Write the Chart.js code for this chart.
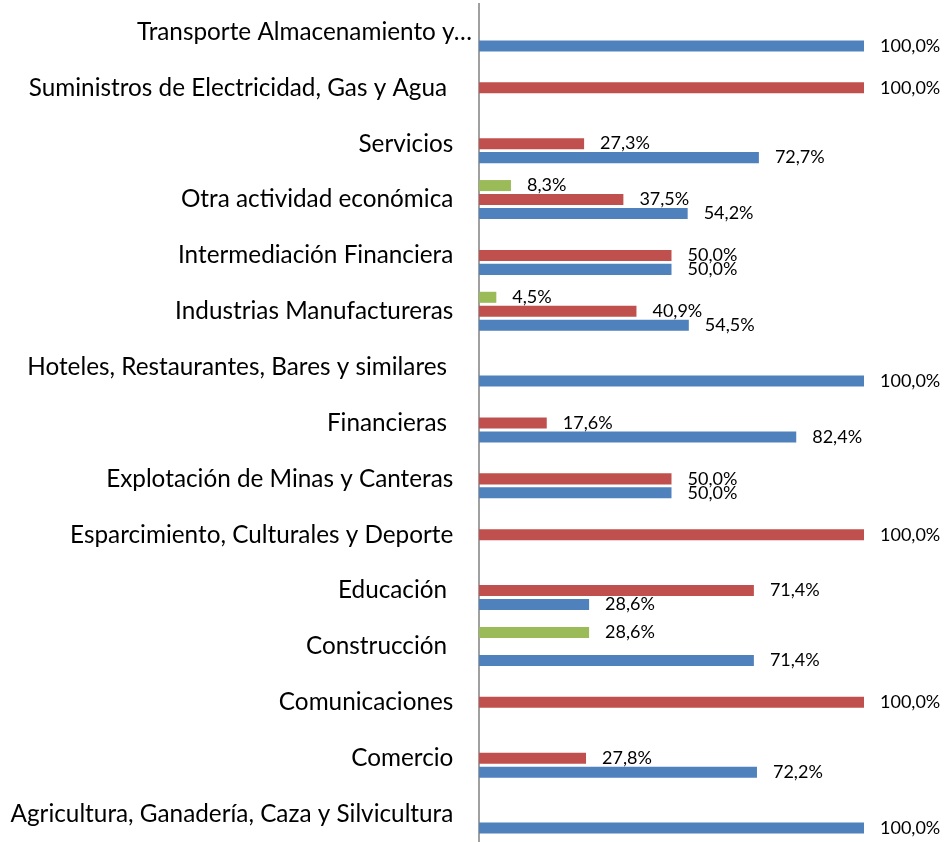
<!DOCTYPE html>
<html>
<head>
<meta charset="utf-8">
<script src="https://cdn.jsdelivr.net/npm/chart.js@4"></script>
<style>
  html, body { margin: 0; padding: 0; background: #fff; }
  #wrap { width: 947px; height: 842px; position: relative; }
</style>
</head>
<body>
<div id="wrap"><canvas id="myChart"></canvas></div>
<script>
// categories, top to bottom (trailing spaces keep the right edges as in the original)
var sectores = [
    'Transporte Almacenamiento y\u2026',
    'Suministros de Electricidad, Gas y Agua    ',
    'Servicios   ',
    'Otra actividad económica   ',
    'Intermediación Financiera   ',
    'Industrias Manufactureras   ',
    'Hoteles, Restaurantes, Bares y similares    ',
    'Financieras    ',
    'Explotación de Minas y Canteras   ',
    'Esparcimiento, Culturales y Deporte   ',
    'Educación    ',
    'Construcción    ',
    'Comunicaciones   ',
    'Comercio   ',
    'Agricultura, Ganadería, Caza y Silvicultura   '
];
// series values in percent (null = empty cell)
var serieVerde = [null, null, null, 8.3, null, 4.5, null, null, null, null, null, 28.6, null, null, null];
var serieRoja  = [null, 100, 27.3, 37.5, 50.0, 40.9, null, 17.6, 50.0, 100, 71.4, null, 100, 27.8, null];
var serieAzul  = [100, null, 72.7, 54.2, 50.0, 54.5, 100, 82.4, 50.0, null, 28.6, 71.4, null, 72.2, 100];

var valueLabels = {
    id: 'valueLabels',
    afterDatasetsDraw: function (chart) {
        var ctx = chart.ctx;
        ctx.save();
        ctx.font = '18px Lato';
        ctx.fillStyle = '#000';
        ctx.textAlign = 'left';
        ctx.textBaseline = 'middle';
        chart.data.datasets.forEach(function (ds, i) {
            var meta = chart.getDatasetMeta(i);
            meta.data.forEach(function (bar, j) {
                var v = ds.data[j];
                if (v === null || v === undefined) return;
                var txt = v.toFixed(1).replace('.', ',') + '%';
                ctx.fillText(txt, bar.x + 16, bar.y);
            });
        });
        ctx.restore();
    }
};

new Chart('myChart', {
    type: 'bar',
    data: {
        labels: sectores,
        datasets: [{
            label: 'Verde',
            backgroundColor: '#9BBB59',
            data: serieVerde
        }, {
            label: 'Roja',
            backgroundColor: '#C0504D',
            data: serieRoja
        }, {
            label: 'Azul',
            backgroundColor: '#4F81BD',
            data: serieAzul
        }]
    },
    options: {
        indexAxis: 'y',
        responsive: true,
        maintainAspectRatio: false,
        animation: false,
        layout: { padding: { top: 4, right: 83, bottom: 0, left: 0 } },
        datasets: {
            bar: { categoryPercentage: 0.75, barPercentage: 0.79 }
        },
        plugins: {
            legend: { display: false },
            title: { display: false },
            tooltip: { enabled: false }
        },
        scales: {
            x: {
                display: false,
                min: 0,
                max: 100
            },
            y: {
                afterFit: function (scale) {
                    scale.width = 479;
                    scale.paddingTop = 0;
                    scale.paddingBottom = 0;
                },
                grid: { display: false, drawTicks: false },
                border: { display: true, color: '#A0A0A0', width: 2 },
                ticks: {
                    padding: 7,
                    color: '#000',
                    font: { family: 'Lato', size: 24.3 }
                }
            }
        }
    },
    plugins: [valueLabels]
});
</script>
</body>
</html>
